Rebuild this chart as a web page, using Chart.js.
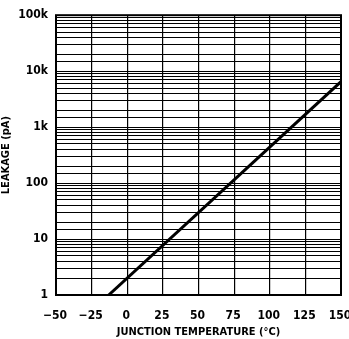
<!DOCTYPE html>
<html>
<head>
<meta charset="utf-8">
<script src="https://cdn.jsdelivr.net/npm/chart.js@4"></script>
<style>
  html, body { margin: 0; padding: 0; background: #fff; }
  #wrap { width: 349px; height: 339px; }
</style>
</head>
<body>
<div id="wrap"><canvas id="leakChart"></canvas></div>
<script>
// values (straight line on log axis)
const temps = [-13, 150];
const leakage = [1, 6500];
const xTicks = [-50, -25, 0, 25, 50, 75, 100, 125, 150];
const yLabels = { 1: '1', 10: '10', 100: '100', 1000: '1k', 10000: '10k', 100000: '100k' };

Chart.defaults.font.family = "'Liberation Sans Narrow', 'DejaVu Sans Condensed', 'Liberation Sans', Arial, sans-serif";
Chart.defaults.font.weight = 'bold';
Chart.defaults.color = '#000';

// full box round the plot
const frame = {
  id: 'frame',
  afterDraw(chart) {
    const { ctx, chartArea: a } = chart;
    ctx.save();
    ctx.strokeStyle = '#000';
    ctx.lineWidth = 2;
    ctx.strokeRect(a.left, a.top, a.right - a.left, a.bottom - a.top);
    ctx.restore();
  }
};

const ctx = document.getElementById('leakChart').getContext('2d');
new Chart(ctx, {
  type: 'scatter',
  data: {
    datasets: [{
      data: temps.map((t, i) => ({ x: t, y: leakage[i] })),
      showLine: true,
      borderColor: '#000',
      borderWidth: 3,
      pointRadius: 0,
      clip: 0
    }]
  },
  options: {
    responsive: true,
    maintainAspectRatio: false,
    animation: false,
    layout: { padding: { top: 15, right: 0, left: 0, bottom: 0 } },
    plugins: { legend: { display: false }, tooltip: { enabled: false } },
    scales: {
      x: {
        type: 'linear',
        min: -50,
        max: 150,
        afterBuildTicks: s => { s.ticks = xTicks.map(v => ({ value: v })); },
        afterFit: s => { s.height = 44; s.paddingRight = 8; s.paddingLeft = 0; },
        grid: { color: '#000', lineWidth: 1.2, drawTicks: false },
        border: { display: false },
        ticks: {
          padding: 14,
          labelOffset: -1,
          font: { size: 12 },
          maxRotation: 0,
          callback: v => v < 0 ? '\u2212' + Math.abs(v) : String(v)
        },
        title: {
          display: true,
          text: 'JUNCTION TEMPERATURE (\u00B0C)',
          font: { size: 11 },
          padding: { top: 0, bottom: 0 }
        }
      },
      y: {
        type: 'logarithmic',
        min: 1,
        max: 100000,
        afterFit: s => { s.width = 56; },
        grid: { color: '#000', lineWidth: 1, drawTicks: false },
        border: { display: false },
        ticks: {
          autoSkip: false,
          padding: 8,
          font: { size: 12 },
          callback: v => yLabels[v] || ''
        },
        title: {
          display: true,
          text: 'LEAKAGE (pA)',
          font: { size: 11 },
          padding: { top: 0, bottom: 6 }
        }
      }
    }
  },
  plugins: [frame]
});
</script>
</body>
</html>
